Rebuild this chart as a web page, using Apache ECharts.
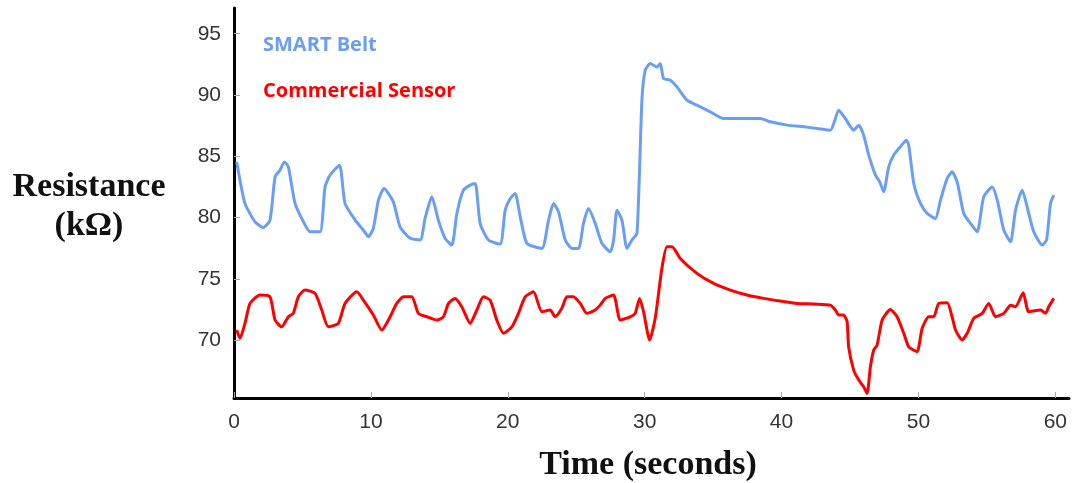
<!DOCTYPE html>
<html>
<head>
<meta charset="utf-8">
<script src="https://cdn.jsdelivr.net/npm/echarts@6/dist/echarts.min.js"></script>
<style>html,body{margin:0;padding:0;background:#fff}#c{width:1073px;height:483px}</style>
</head>
<body>
<div id="c"></div>
<script>
var xTicks = [0, 10, 20, 30, 40, 50, 60];
var yTicks = [70, 75, 80, 85, 90, 95];

var beltTime = [0.20,0.80,1.54,2.14,2.63,3.00,3.36,3.68,3.97,4.46,5.07,5.56,6.29,6.65,7.02,7.70,8.11,8.85,9.45,9.82,10.18,10.55,10.96,11.64,12.13,12.87,13.60,13.96,14.45,14.93,15.42,15.91,16.28,16.76,17.25,17.62,17.98,18.59,19.44,19.81,20.18,20.54,20.91,21.40,22.49,22.98,23.34,23.71,24.20,24.69,25.17,25.53,25.90,26.39,26.88,27.49,27.73,27.98,28.34,28.71,29.07,29.44,29.80,30.04,30.41,30.90,31.14,31.38,31.87,32.36,33.09,33.82,34.80,35.77,36.99,38.45,39.18,40.40,41.62,42.60,43.57,43.86,44.17,44.66,45.27,45.64,46.00,46.37,46.86,47.17,47.46,47.83,48.19,48.68,49.12,49.29,49.66,50.15,50.64,51.24,51.61,52.10,52.46,52.83,53.31,53.80,54.29,54.77,55.39,55.76,56.24,56.73,57.09,57.58,58.06,58.43,59.04,59.36,59.65,59.89];
var beltValue = [84.54,81.15,79.65,79.19,79.79,83.32,83.87,84.54,84.14,81.15,79.65,78.83,78.83,82.50,83.46,84.27,81.15,79.79,78.97,78.43,79.11,81.42,82.37,81.28,79.24,78.30,78.16,79.93,81.69,79.79,78.30,77.75,80.33,82.23,82.64,82.78,79.52,78.16,77.83,80.60,81.56,81.97,80.06,77.89,77.48,79.79,81.15,80.46,78.16,77.48,77.48,79.52,80.74,79.52,77.89,77.20,78.16,80.60,79.79,77.48,78.16,78.70,89.58,92.02,92.57,92.29,92.57,91.35,91.21,90.66,89.58,89.17,88.62,88.08,88.08,88.08,87.81,87.54,87.40,87.27,87.13,87.81,88.76,88.08,87.13,87.54,86.72,85.09,83.46,82.91,82.10,84.14,85.09,85.77,86.31,85.91,82.78,81.15,80.33,79.93,81.42,83.19,83.73,82.91,80.33,79.52,78.83,81.69,82.50,81.42,78.97,78.02,80.60,82.23,80.33,78.83,77.75,78.16,81.15,81.83];

var sensorTime = [0.20,0.44,0.80,1.17,1.90,2.63,3.00,3.49,3.97,4.33,4.70,5.19,5.92,6.41,6.89,7.62,8.11,8.97,9.45,10.18,10.80,11.28,11.89,12.38,12.99,13.47,14.09,14.82,15.30,15.67,16.15,16.64,17.25,17.74,18.22,18.71,19.20,19.69,20.30,20.78,21.27,21.88,22.49,23.10,23.46,23.95,24.32,24.80,25.29,25.78,26.39,26.75,27.12,27.73,28.22,28.95,29.31,29.63,29.92,30.36,30.77,31.26,31.63,32.00,32.60,33.82,35.04,36.26,37.48,38.69,39.91,41.13,42.35,43.57,43.93,44.17,44.54,44.79,44.90,45.27,45.64,46.00,46.25,46.49,46.73,46.98,47.35,47.95,48.44,48.93,49.29,49.90,50.27,50.75,51.12,51.48,52.10,52.46,52.71,53.19,53.56,54.04,54.66,55.14,55.63,56.24,56.73,57.09,57.65,58.06,58.92,59.28,59.52,59.89];
var sensorValue = [70.82,70.14,71.36,72.99,73.67,73.53,71.63,71.08,71.90,72.18,73.53,74.08,73.81,72.45,71.08,71.36,72.99,73.94,73.26,72.04,70.82,71.63,72.99,73.53,73.53,72.18,71.90,71.63,71.90,72.99,73.40,72.72,71.36,72.45,73.53,73.26,71.63,70.55,71.08,72.18,73.53,73.94,72.31,72.45,71.90,72.59,73.53,73.53,72.99,72.18,72.45,72.85,73.40,73.67,71.63,71.90,72.18,73.40,72.31,70.00,71.77,75.85,77.61,77.61,76.66,75.44,74.62,74.08,73.67,73.40,73.18,72.99,72.94,72.85,72.45,72.04,72.04,71.49,69.45,67.55,66.74,66.19,65.65,67.82,69.18,69.59,71.63,72.50,71.90,70.55,69.45,69.05,70.95,71.90,71.90,72.99,73.04,71.90,70.82,70.00,70.55,71.77,72.18,72.99,71.90,72.18,72.85,72.72,73.86,72.31,72.45,72.18,72.72,73.40];

function pairs(xs, ys) { return xs.map(function (x, i) { return [x, ys[i]]; }); }

var chart = echarts.init(document.getElementById('c'), null, { renderer: 'canvas' });
chart.setOption({
  animation: false,
  backgroundColor: '#ffffff',
  grid: { left: 234, right: 4, top: 8, bottom: 85, containLabel: false },
  legend: {
    orient: 'vertical',
    left: 253,
    top: 30,
    itemGap: 26,
    icon: 'none',
    itemWidth: 0,
    itemHeight: 0,
    selectedMode: false,
    data: [
      { name: 'SMART Belt', textStyle: { color: '#6a9ef2' } },
      { name: 'Commercial Sensor', textStyle: { color: '#ff0000' } }
    ],
    textStyle: { fontFamily: 'Open Sans', fontWeight: 'bold', fontSize: 20 }
  },
  xAxis: {
    type: 'value', min: 0, max: 61,
    splitLine: { show: false },
    axisLine: { lineStyle: { color: '#000', width: 3 } },
    axisTick: { inside: true, length: 6, customValues: xTicks, lineStyle: { color: '#aaa', width: 1 } },
    axisLabel: { customValues: xTicks, color: '#333', fontSize: 21, fontFamily: 'Liberation Sans', margin: 14 }
  },
  yAxis: {
    type: 'value', min: 65.27, max: 97.1,
    splitLine: { show: false },
    axisLine: { lineStyle: { color: '#000', width: 3 } },
    axisTick: { inside: true, length: 6, customValues: yTicks, lineStyle: { color: '#aaa', width: 1 } },
    axisLabel: { customValues: yTicks, color: '#333', fontSize: 21, fontFamily: 'Liberation Sans', margin: 13 }
  },
  graphic: [
    { type: 'text', x: 89, y: 187, style: { text: 'Resistance', font: 'bold 34px "Liberation Serif"', fill: '#111', textAlign: 'center', textVerticalAlign: 'middle' } },
    { type: 'text', x: 89, y: 226, style: { text: '(kΩ)', font: 'bold 34px "Liberation Serif"', fill: '#111', textAlign: 'center', textVerticalAlign: 'middle' } },
    { type: 'text', x: 648, y: 465, style: { text: 'Time (seconds)', font: 'bold 34px "Liberation Serif"', fill: '#111', textAlign: 'center', textVerticalAlign: 'middle' } }
  ],
  series: [
    {
      name: 'SMART Belt', type: 'line', showSymbol: false, symbol: 'none', smooth: 0.2,
      data: pairs(beltTime, beltValue),
      lineStyle: { color: '#6a9ef2', width: 3 }, itemStyle: { color: '#6a9ef2' }
    },
    {
      name: 'Commercial Sensor', type: 'line', showSymbol: false, symbol: 'none', smooth: 0.2,
      data: pairs(sensorTime, sensorValue),
      lineStyle: { color: '#ff0000', width: 3 }, itemStyle: { color: '#ff0000' }
    }
  ]
});
</script>
</body>
</html>
